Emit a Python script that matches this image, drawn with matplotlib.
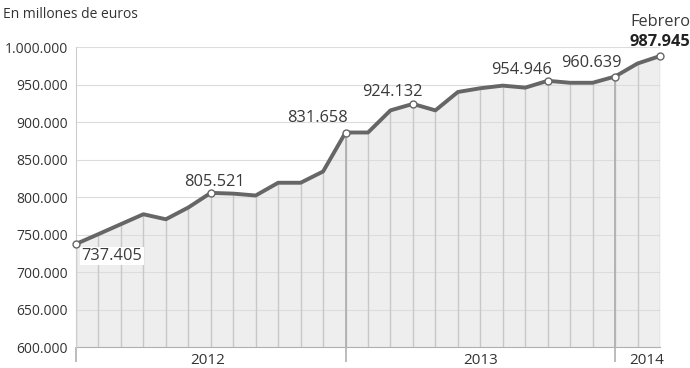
import numpy as np
import matplotlib.pyplot as plt

plt.rcParams['font.family'] = ['Open Sans', 'DejaVu Sans']

# deuda en millones de euros, dic 2011 - feb 2014
months = list(range(27))
debt = [737405, 750500, 763800, 777000, 770300, 786000, 805521, 804500, 802000,
        819000, 819000, 834000, 886000, 886000, 915500, 924132, 915500, 940000,
        945000, 948500, 945800, 954946, 952300, 952300, 960639, 978000, 987945]
marked = [0, 6, 12, 15, 21, 24, 26]
labels = ['737.405', '805.521', '831.658', '924.132', '954.946', '960.639', '987.945']
year_names = ['2012', '2013', '2014']
year_pos = [5.85, 18, 25.4]
dividers = [0, 12, 24]
yticks = list(range(600000, 1000001, 50000))

def fmt(v):
    return '{:,.0f}'.format(v).replace(',', '.')

fig = plt.figure(figsize=(6.9, 3.68), dpi=100)
ax = fig.add_axes([76 / 690, 21 / 368, 584 / 690, 300 / 368])

ax.set_xlim(0, 26)
ax.set_ylim(600000, 1000000)

ax.fill_between(months, debt, 600000, color='#eeeeee', zorder=1, lw=0)
for y in yticks:
    ax.axhline(y, color='#dcdcdc', lw=0.8, zorder=2)
ax.vlines(months, 600000, debt, color='#c8c8c8', lw=1, zorder=2)
ax.vlines(dividers, 600000, [debt[i] for i in dividers], color='#b0b0b0', lw=1.3, zorder=2)

ax.plot(months, debt, color='#666666', lw=2.8, zorder=4, solid_joinstyle='round',
        clip_on=False)
ax.plot([months[i] for i in marked], [debt[i] for i in marked], 'o', ms=5,
        mfc='white', mec='#666666', mew=1, zorder=5, clip_on=False)

fs = 11.8
txt = dict(color='#3a3a3a', fontsize=fs, zorder=6)
box = dict(facecolor='white', edgecolor='none', pad=1)
# etiquetas de valores
ax.annotate(labels[0], (0, debt[0]), xytext=(4, -3), textcoords='offset points',
            ha='left', va='top', bbox=box, **txt)
ax.annotate(labels[1], (6, debt[6]), xytext=(3, 2), textcoords='offset points',
            ha='center', va='bottom', **txt)
ax.annotate(labels[2], (12, debt[12]), xytext=(-20, 5), textcoords='offset points',
            ha='center', va='bottom', **txt)
ax.annotate(labels[3], (15, debt[15]), xytext=(-15, 3), textcoords='offset points',
            ha='center', va='bottom', **txt)
ax.annotate(labels[4], (21, debt[21]), xytext=(-19, 2), textcoords='offset points',
            ha='center', va='bottom', **txt)
ax.annotate(labels[5], (24, debt[24]), xytext=(-17, 4), textcoords='offset points',
            ha='center', va='bottom', **txt)
ax.annotate(labels[6], (26, debt[26]), xytext=(22, 4), textcoords='offset points',
            ha='right', va='bottom', fontweight='bold', color='#222222', fontsize=fs)
ax.annotate('Febrero', (26, debt[26]), xytext=(22, 19), textcoords='offset points',
            ha='right', va='bottom', color='#3a3a3a', fontsize=fs)

ax.set_yticks(yticks)
ax.set_yticklabels([fmt(v) for v in yticks])
ax.tick_params(axis='y', length=0, pad=6, labelsize=10, labelcolor='#333333')

ax.set_xticks(dividers)
ax.set_xticklabels([])
ax.tick_params(axis='x', length=11, width=1.2, color='#b0b0b0')
for x, name in zip(year_pos, year_names):
    ax.annotate(name, (x, 600000), xytext=(0, -12.5), textcoords='offset points',
                ha='center', va='baseline', fontsize=11, color='#333333')

for s in ['top', 'right']:
    ax.spines[s].set_visible(False)
ax.spines['left'].set_color('#cccccc')
ax.spines['bottom'].set_color('#b0b0b0')
ax.spines['left'].set_zorder(3)

fig.text(3 / 690, 1 - 15 / 368, 'En millones de euros', ha='left', va='center',
         fontsize=10, color='#333333')

fig.savefig('out.png', dpi=100)
